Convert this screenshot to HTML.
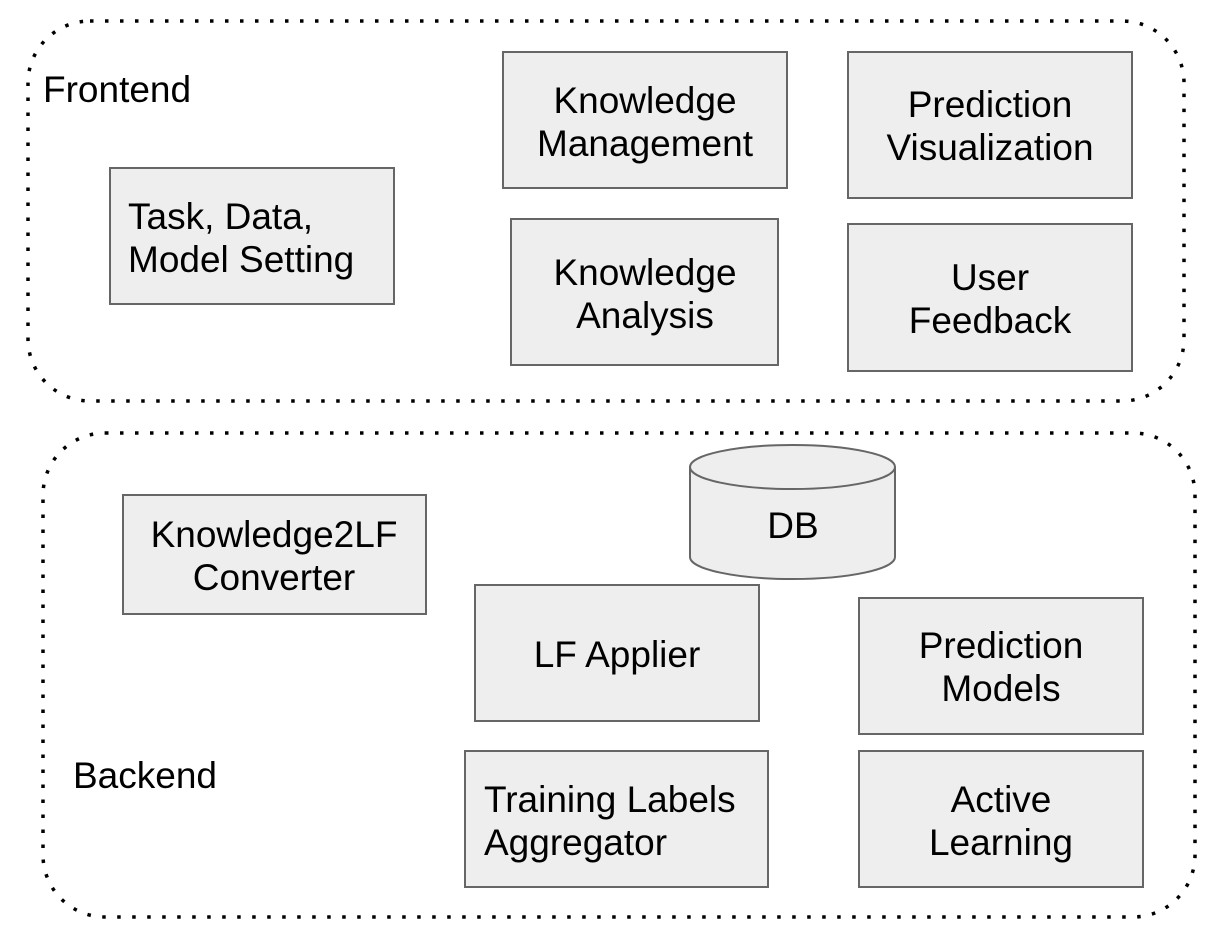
<!DOCTYPE html>
<html><head><meta charset="utf-8"><style>
html,body{margin:0;padding:0;background:#fff}
svg text{font-family:"Liberation Sans",Arial,sans-serif;font-size:37px;fill:#000}
</style></head><body>
<svg width="1224" height="942" viewBox="0 0 1224 942" xmlns="http://www.w3.org/2000/svg">
<g fill="none" stroke="#000" stroke-width="3.5" stroke-dasharray="3.5 11.5" stroke-linecap="butt">
<rect x="28" y="21" width="1156" height="380" rx="62"/>
<rect x="43" y="433" width="1152" height="484" rx="62"/>
</g>
<g fill="#eeeeee" stroke="#666" stroke-width="2">
<rect x="110" y="168" width="284" height="136"/>
<rect x="503" y="52" width="284" height="136"/>
<rect x="848" y="52" width="284" height="146"/>
<rect x="511" y="219" width="267" height="146"/>
<rect x="848" y="224" width="284" height="147"/>
<rect x="123" y="495" width="303" height="119"/>
<rect x="475" y="585" width="284" height="136"/>
<rect x="859" y="598" width="284" height="136"/>
<rect x="465" y="751" width="303" height="136"/>
<rect x="859" y="751" width="284" height="136"/>
<path d="M690 467 L690 557 A102.5 22 0 0 0 895 557 L895 467 A102.5 22 0 0 0 690 467 Z"/>
<path d="M690 467 A102.5 22 0 0 0 895 467" fill="none"/>
</g>
<text x="43" y="102">Frontend</text>
<text x="73" y="788">Backend</text>
<text x="128" y="229">Task, Data,</text>
<text x="128" y="272">Model Setting</text>
<g text-anchor="middle">
<text x="645" y="113">Knowledge</text>
<text x="645" y="156">Management</text>
<text x="990" y="117">Prediction</text>
<text x="990" y="160">Visualization</text>
<text x="645" y="285">Knowledge</text>
<text x="645" y="328">Analysis</text>
<text x="990" y="290">User</text>
<text x="990" y="333">Feedback</text>
<text x="274" y="547">Knowledge2LF</text>
<text x="274" y="590">Converter</text>
<text x="793" y="538">DB</text>
<text x="617" y="667">LF Applier</text>
<text x="1001" y="658">Prediction</text>
<text x="1001" y="701">Models</text>
<text x="1001" y="812">Active</text>
<text x="1001" y="855">Learning</text>
</g>
<text x="484" y="812">Training Labels</text>
<text x="484" y="855">Aggregator</text>
</svg>
</body></html>
